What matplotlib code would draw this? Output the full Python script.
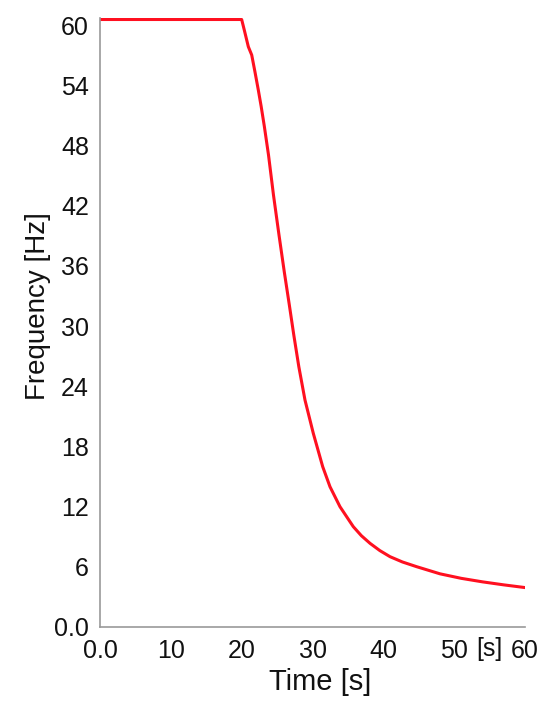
import numpy as np
import matplotlib
matplotlib.use('Agg')
import matplotlib.pyplot as plt

# значения: время [s] и частота [Hz]
time_s = [0.0, 20.0, 20.37, 20.94, 21.42, 21.88, 22.35, 22.75, 23.2, 23.79,
          24.49, 25.27, 26.02, 26.73, 27.36, 28.07, 28.94, 30.11, 31.44,
          32.47, 33.88, 35.76, 36.9, 38.12, 39.5, 40.94, 42.7, 44.71, 48.0,
          51.0, 54.0, 57.0, 60.0]
freq_hz = [60.55, 60.55, 59.50, 57.84, 57.01, 55.32, 53.52, 51.9, 49.9, 47.04,
           43.06, 39.07, 35.38, 32.09, 29.10, 25.94, 22.62, 19.31, 15.98,
           13.98, 11.99, 10.0, 9.1, 8.34, 7.62, 7.01, 6.48, 6.01, 5.30,
           4.85, 4.50, 4.20, 3.93]

xticks = [0, 10, 20, 30, 40, 50, 60]
xtick_labels = ['0.0', '10', '20', '30', '40', '50', '60']
yticks = [0, 6, 12, 18, 24, 30, 36, 42, 48, 54, 60]
ytick_labels = ['0.0', '6', '12', '18', '24', '30', '36', '42', '48', '54', '60']

plt.rcParams['font.family'] = ['Liberation Sans', 'DejaVu Sans']

fig = plt.figure(figsize=(5.5, 7.12), dpi=100)
ax = fig.add_axes([100 / 550, 85 / 712, 425 / 550, 609 / 712])

ax.plot(time_s, freq_hz, color='#ff1020', linewidth=2.2, solid_capstyle='round',
        solid_joinstyle='round')

ax.set_xlim(0, 60)
ax.set_ylim(0, 60.7)
ax.set_xticks(xticks)
ax.set_xticklabels(xtick_labels)
ax.set_yticks(yticks)
ax.set_yticklabels(ytick_labels)
ax.tick_params(axis='both', length=0, labelsize=18, colors='#111111')
ax.tick_params(axis='y', pad=8)
ax.tick_params(axis='x', pad=9)

for s in ['top', 'right']:
    ax.spines[s].set_visible(False)
for s in ['left', 'bottom']:
    ax.spines[s].set_color('#999999')
    ax.spines[s].set_linewidth(1.2)

ax.set_xlabel('Time [s]', fontsize=21, color='#111111')
ax.set_ylabel('Frequency [Hz]', fontsize=20, color='#111111')
ax.xaxis.set_label_coords(0.518, -0.067)
ax.yaxis.set_label_coords(-0.115, 0.527)

# подпись единиц около оси X
fig.text(489 / 550, 1 - 649 / 712, '[s]', fontsize=18, ha='center', va='center',
         color='#111111')

plt.savefig('out.png', dpi=100)
